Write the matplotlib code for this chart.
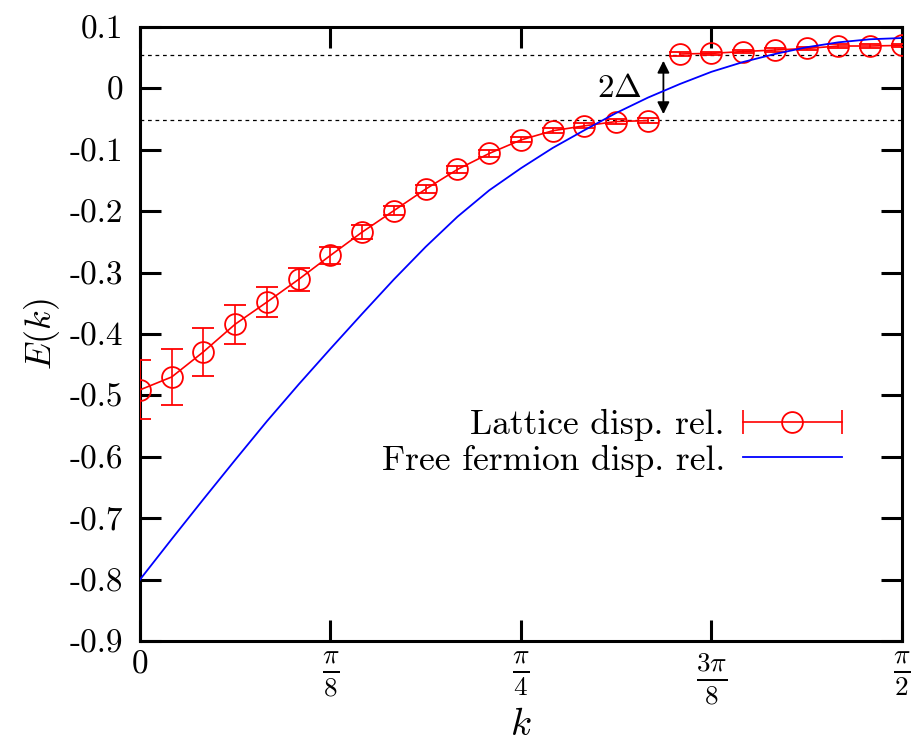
import numpy as np
import matplotlib
matplotlib.use("Agg")
import matplotlib.pyplot as plt
from matplotlib.lines import Line2D
from matplotlib.legend_handler import HandlerLine2D, HandlerTuple

plt.rcParams['mathtext.fontset'] = 'cm'
plt.rcParams['font.family'] = ['cmr10', 'DejaVu Serif']
plt.rcParams['axes.unicode_minus'] = False

# lattice momenta k = n*pi/48, n = 0..24
k_lat = np.arange(25) * np.pi / 48

# lattice dispersion relation
E_lat = [-0.491, -0.470, -0.429, -0.384, -0.348, -0.311, -0.272, -0.234,
         -0.199, -0.164, -0.132, -0.106, -0.084, -0.069, -0.061, -0.054,
         -0.0525, 0.056, 0.057, 0.060, 0.0625, 0.065, 0.069, 0.069, 0.070]
E_err = [0.048, 0.045, 0.039, 0.032, 0.025, 0.019, 0.014, 0.011,
         0.008, 0.007, 0.006, 0.005, 0.004, 0.004, 0.004, 0.004,
         0.004, 0.003, 0.003, 0.003, 0.003, 0.003, 0.003, 0.003, 0.003]
gap_after = 17  # points 0..16 below the gap, 17..24 above

# free fermion curve, sampled on the same grid
E_free = [-0.800, -0.734, -0.669, -0.605, -0.542, -0.482, -0.424, -0.367,
          -0.311, -0.258, -0.209, -0.166, -0.130, -0.097, -0.068, -0.040,
          -0.015, 0.007, 0.027, 0.043, 0.056, 0.067, 0.075, 0.080, 0.082]

gap_lo, gap_hi = -0.052, 0.054

yticks = np.round(np.arange(-0.9, 0.11, 0.1), 1)
ytick_labels = ['-0.9', '-0.8', '-0.7', '-0.6', '-0.5', '-0.4', '-0.3',
                '-0.2', '-0.1', '0', '0.1']
xticks = [0, np.pi / 8, np.pi / 4, 3 * np.pi / 8, np.pi / 2]
xtick_labels = ['0', r'$\frac{\pi}{8}$', r'$\frac{\pi}{4}$',
                r'$\frac{3\pi}{8}$', r'$\frac{\pi}{2}$']

fig = plt.figure(figsize=(9.16, 7.45), dpi=100)
ax = fig.add_axes([0.1528, 0.1396, 0.8319, 0.8242])

# dotted lines marking the gap
for yv in (gap_lo, gap_hi):
    ax.axhline(yv, color='black', lw=0.9, ls=(0, (3, 3)), zorder=1)

err_style = dict(color='red', lw=1.2, marker='o', ms=15, mfc='none',
                 mew=1.3, capsize=8, capthick=1.2, elinewidth=1.2, zorder=3)
ax.errorbar(k_lat[:gap_after], E_lat[:gap_after], yerr=E_err[:gap_after], **err_style)
ax.errorbar(k_lat[gap_after:], E_lat[gap_after:], yerr=E_err[gap_after:], **err_style)

ax.plot(k_lat, E_free, color='blue', lw=1.3, zorder=4)

# 2 Delta arrow
k_arrow = 1.079
ax.annotate('', xy=(k_arrow, 0.045), xytext=(k_arrow, -0.042),
            arrowprops=dict(arrowstyle='<|-|>', color='black', lw=1.3,
                            mutation_scale=18, shrinkA=0, shrinkB=0))
ax.text(1.035, 0.0, r'$2\Delta$', fontsize=24, ha='right', va='center')

ax.set_xlim(0, np.pi / 2)
ax.set_ylim(-0.9, 0.1)
ax.set_xticks(xticks)
ax.set_xticklabels(xtick_labels, fontsize=28)
ax.get_xticklabels()[0].set_fontsize(24)
ax.set_yticks(yticks)
ax.set_yticklabels(ytick_labels, fontsize=24)
ax.tick_params(direction='in', length=15, width=2.2, top=True, right=True)
ax.tick_params(axis='y', pad=12)
ax.tick_params(axis='x', pad=7)
for s in ax.spines.values():
    s.set_linewidth(2.2)

ax.set_xlabel(r'$k$', fontsize=28)
ax.xaxis.set_label_coords(0.5, -0.108)
ax.set_ylabel(r'$E(k)$', fontsize=26)
ax.yaxis.set_label_coords(-0.102, 0.5)

# legend in gnuplot style: label first, then sample
caps = Line2D([], [], color='red', lw=1.2, marker='|', ms=17, mew=1.2)
circ = Line2D([], [], color='red', lw=0, marker='o', ms=15, mfc='none', mew=1.3)
free = Line2D([], [], color='blue', lw=1.3)
ax.legend([(caps, circ), free], ['Lattice disp. rel.', 'Free fermion disp. rel.'],
          handler_map={caps: HandlerLine2D(numpoints=2, marker_pad=0),
                       circ: HandlerLine2D(numpoints=1),
                       tuple: HandlerTuple(ndivide=1)},
          loc='center right', bbox_to_anchor=(0.921, 0.3225),
          frameon=False, markerfirst=False, fontsize=25.5,
          handlelength=2.8, handletextpad=0.5, labelspacing=0.1,
          borderpad=0, borderaxespad=0)

fig.savefig('out.png', dpi=100)
